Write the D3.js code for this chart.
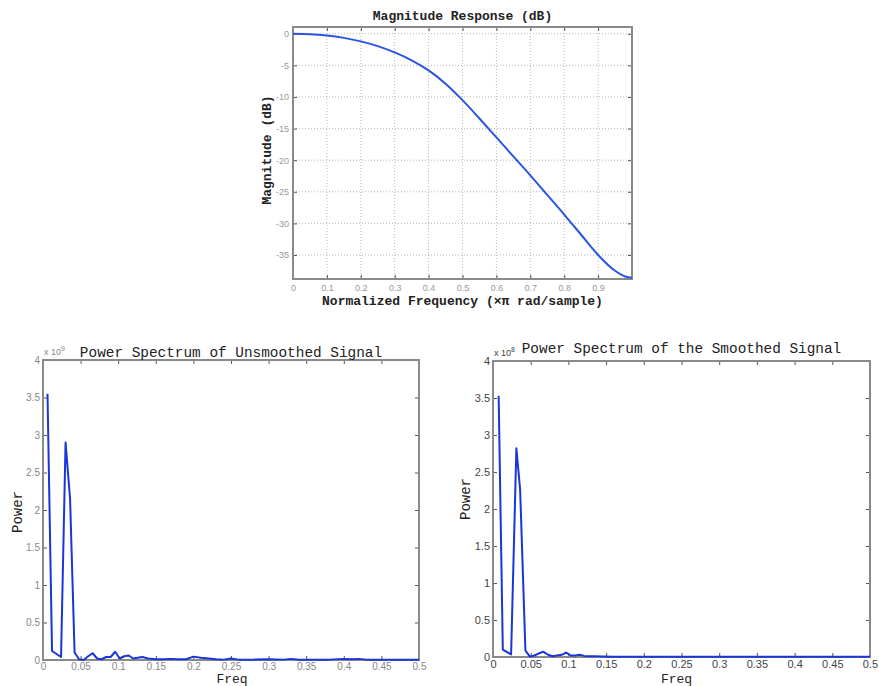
<!DOCTYPE html>
<html>
<head>
<meta charset="utf-8">
<script src="https://cdn.jsdelivr.net/npm/d3@7"></script>
<style>
  body { margin: 0; background: #fff; }
  .tick text { font-family: "Liberation Sans", Arial, sans-serif; }
</style>
</head>
<body>
<script>
// magnitude response (top)
var freqN = [0, 0.05, 0.1, 0.15, 0.2, 0.25, 0.3, 0.35, 0.4, 0.45, 0.5, 0.55, 0.6, 0.65, 0.7, 0.75, 0.8, 0.85, 0.9, 0.95, 0.98, 1.0];
var magDb = [0, -0.07, -0.28, -0.65, -1.2, -1.95, -2.95, -4.2, -5.8, -7.9, -10.5, -13.4, -16.4, -19.4, -22.4, -25.5, -28.6, -31.8, -35.0, -37.5, -38.4, -38.6];
var magXTicks = [0, 0.1, 0.2, 0.3, 0.4, 0.5, 0.6, 0.7, 0.8, 0.9, 1];
var magYTicks = [0, -5, -10, -15, -20, -25, -30, -35];

// power spectrum, unsmoothed (bottom left)
var freqU = [0.006,0.012,0.024,0.030,0.036,0.042,0.048,0.054,0.060,0.066,0.072,0.078,0.084,0.090,0.096,0.102,0.108,0.114,0.120,0.126,0.132,0.140,0.150,0.160,0.170,0.180,0.190,0.200,0.210,0.220,0.230,0.240,0.250,0.260,0.280,0.300,0.320,0.330,0.340,0.360,0.380,0.400,0.410,0.420,0.430,0.450,0.470,0.500];
var powerU = [3.55,0.12,0.04,2.90,2.15,0.10,0.01,0.00,0.05,0.09,0.02,0.01,0.04,0.04,0.11,0.02,0.05,0.06,0.02,0.03,0.04,0.02,0.01,0.01,0.015,0.01,0.01,0.045,0.03,0.02,0.01,0.005,0.02,0.005,0.005,0.01,0.005,0.015,0.005,0.005,0.005,0.015,0.01,0.015,0.005,0.005,0.005,0.005];

// power spectrum, smoothed (bottom right)
var freqS = [0.0075,0.013,0.024,0.031,0.036,0.043,0.049,0.055,0.061,0.067,0.073,0.079,0.085,0.091,0.097,0.103,0.109,0.115,0.121,0.127,0.135,0.145,0.160,0.180,0.200,0.220,0.250,0.300,0.350,0.400,0.450,0.500];
var powerS = [3.53,0.10,0.035,2.82,2.26,0.085,0.005,0.02,0.05,0.07,0.03,0.01,0.02,0.03,0.06,0.02,0.02,0.03,0.015,0.01,0.01,0.008,0.005,0.004,0.004,0.003,0.002,0.002,0.002,0.002,0.002,0.002];

var psXTicks = [0, 0.05, 0.1, 0.15, 0.2, 0.25, 0.3, 0.35, 0.4, 0.45, 0.5];
var psYTicks = [0, 0.5, 1, 1.5, 2, 2.5, 3, 3.5, 4];

var svg = d3.select("body").append("svg")
  .attr("width", 879)
  .attr("height", 686);

var mono = "'Liberation Mono', 'Courier New', monospace";
var plain = function (d) { return d; };

function panel(o) {
  var x = d3.scaleLinear().domain(o.xDomain).range([o.left, o.right]);
  var y = d3.scaleLinear().domain(o.yDomain).range([o.bottom, o.top]);
  var g = svg.append("g");

  // dotted grid (top chart only)
  if (o.grid) {
    g.selectAll("line.vg").data(o.xTicks.slice(1, -1)).enter().append("line")
      .attr("x1", function (d) { return x(d); }).attr("x2", function (d) { return x(d); })
      .attr("y1", o.top).attr("y2", o.bottom)
      .attr("stroke", "#b8b8b8").attr("stroke-dasharray", "1,2");
    g.selectAll("line.hg").data(o.yTicks).enter().append("line")
      .attr("y1", function (d) { return y(d); }).attr("y2", function (d) { return y(d); })
      .attr("x1", o.left).attr("x2", o.right)
      .attr("stroke", "#b8b8b8").attr("stroke-dasharray", "1,2");
  }

  var fmtX = o.fmtX || plain;

  var xb = g.append("g").attr("transform", "translate(0," + o.bottom + ")")
    .call(d3.axisBottom(x).tickValues(o.xTicks).tickFormat(fmtX).tickSizeInner(-4).tickSizeOuter(0).tickPadding(o.xPad));
  var xt = g.append("g").attr("transform", "translate(0," + o.top + ")")
    .call(d3.axisTop(x).tickValues(o.xTicks).tickFormat("").tickSizeInner(-4).tickSizeOuter(0));
  var yl = g.append("g").attr("transform", "translate(" + o.left + ",0)")
    .call(d3.axisLeft(y).tickValues(o.yTicks).tickFormat(plain).tickSizeInner(-4).tickSizeOuter(0).tickPadding(o.yPad));
  var yr = g.append("g").attr("transform", "translate(" + o.right + ",0)")
    .call(d3.axisRight(y).tickValues(o.yTicks).tickFormat("").tickSizeInner(-4).tickSizeOuter(0));

  [xb, xt, yl, yr].forEach(function (a) {
    a.select(".domain").remove();
    a.selectAll(".tick line").attr("stroke", "#555");
    a.selectAll(".tick text").attr("fill", o.tickColor).attr("font-size", o.tickSize);
  });

  g.append("rect")
    .attr("x", o.left).attr("y", o.top)
    .attr("width", o.right - o.left).attr("height", o.bottom - o.top)
    .attr("fill", "none").attr("stroke", "#8a8a8a").attr("stroke-width", 2);

  var line = d3.line()
    .x(function (d) { return x(d[0]); })
    .y(function (d) { return y(d[1]); })
    .curve(o.curve || d3.curveLinear);

  g.append("path")
    .datum(d3.zip(o.xs, o.ys))
    .attr("d", line)
    .attr("fill", "none")
    .attr("stroke", o.color)
    .attr("stroke-width", 2)
    .attr("stroke-linejoin", "round");

  // titles and labels
  g.append("text")
    .attr("x", (o.left + o.right) / 2 + (o.titleDx || 0)).attr("y", o.titleY)
    .attr("text-anchor", "middle")
    .attr("font-family", mono).attr("font-size", o.titleSize)
    .attr("font-weight", o.bold ? "bold" : "normal")
    .attr("fill", "#222")
    .text(o.title);

  g.append("text")
    .attr("x", (o.left + o.right) / 2 + (o.xLabelDx || 0)).attr("y", o.xLabelY)
    .attr("text-anchor", "middle")
    .attr("font-family", mono).attr("font-size", o.xLabelSize || o.labelSize)
    .attr("font-weight", o.bold ? "bold" : "normal")
    .attr("fill", "#222")
    .text(o.xLabel);

  g.append("text")
    .attr("transform", "translate(" + o.yLabelX + "," + ((o.top + o.bottom) / 2 + (o.yLabelDy || 0)) + ") rotate(-90)")
    .attr("text-anchor", "middle")
    .attr("font-family", mono).attr("font-size", o.labelSize)
    .attr("font-weight", o.bold ? "bold" : "normal")
    .attr("fill", "#222")
    .text(o.yLabel);

  if (o.exponent) {
    var e = g.append("text")
      .attr("x", o.left + 1).attr("y", o.top - 5)
      .attr("font-family", "'Liberation Sans', Arial, sans-serif")
      .attr("font-size", 9).attr("fill", o.tickColor);
    e.append("tspan").text("x 10");
    e.append("tspan").attr("dy", -4).attr("font-size", 7).text(o.exponent);
  }
}

panel({
  left: 293, right: 632, top: 27, bottom: 279,
  xDomain: [0, 1], yDomain: [-38.8, 1.07],
  xTicks: magXTicks, yTicks: magYTicks,
  fmtX: function (d) { return d === 1 ? "" : d; },
  xs: freqN, ys: magDb, curve: d3.curveMonotoneX,
  color: "#2a55e0", grid: true,
  tickColor: "#999", tickSize: 9, xPad: 6, yPad: 4,
  title: "Magnitude Response (dB)", titleY: 20, titleSize: 13, bold: true,
  xLabel: "Normalized Frequency (\u00d7\u03c0 rad/sample)", xLabelY: 305,
  yLabel: "Magnitude (dB)", yLabelX: 271, yLabelDy: -3, labelSize: 13
});

panel({
  left: 43, right: 419, top: 360, bottom: 660,
  xDomain: [0, 0.5], yDomain: [0, 4],
  xTicks: psXTicks, yTicks: psYTicks,
  xs: freqU, ys: powerU,
  color: "#1a35d8",
  tickColor: "#888", tickSize: 10, xPad: 3, yPad: 3,
  title: "Power Spectrum of Unsmoothed Signal", titleY: 357, titleSize: 14.4, bold: false,
  xLabel: "Freq", xLabelY: 683, xLabelDx: 1, xLabelSize: 13,
  yLabel: "Power", yLabelX: 22, yLabelDy: 2, labelSize: 14,
  exponent: "9"
});

panel({
  left: 493, right: 870, top: 361, bottom: 657,
  xDomain: [0, 0.5], yDomain: [0, 4],
  xTicks: psXTicks, yTicks: psYTicks,
  xs: freqS, ys: powerS,
  color: "#1a35d8",
  tickColor: "#444", tickSize: 11, xPad: 3, yPad: 3,
  title: "Power Spectrum of the Smoothed Signal", titleY: 353, titleSize: 14.4, bold: false, titleDx: 0,
  xLabel: "Freq", xLabelY: 683, xLabelDx: -5, xLabelSize: 13,
  yLabel: "Power", yLabelX: 470, yLabelDy: -10, labelSize: 14,
  exponent: "8"
});
</script>
</body>
</html>
